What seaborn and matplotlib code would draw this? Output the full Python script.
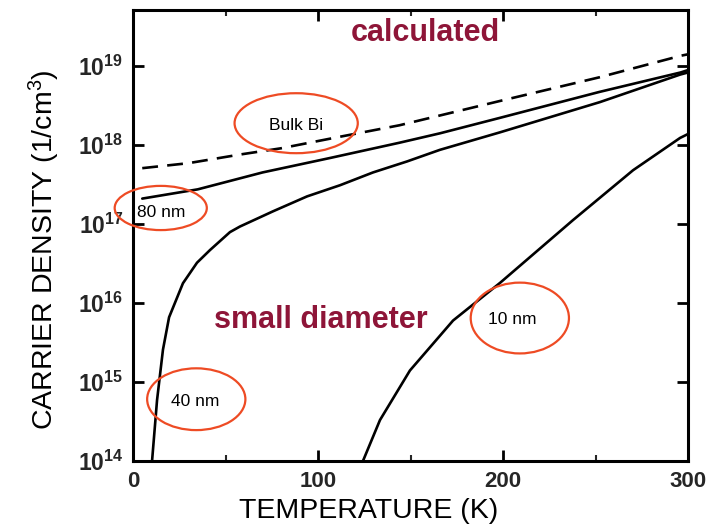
import numpy as np
import pandas as pd
import matplotlib
matplotlib.use("Agg")
import matplotlib.pyplot as plt
from matplotlib.patches import Ellipse
import seaborn as sns

# ---- data ----
t_bulk = [5, 30, 58, 80, 110, 144, 198, 252, 296, 300]
n_bulk = [5.1e17, 5.9e17, 7.6e17, 9.1e17, 1.25e18, 1.78e18, 3.6e18, 7.2e18, 1.35e19, 1.41e19]

t_80 = [5, 35, 58, 70, 107, 144, 166, 198, 252, 296, 300]
n_80 = [2.1e17, 2.75e17, 3.8e17, 4.5e17, 6.9e17, 1.07e18, 1.41e18, 2.2e18, 4.7e18,
        8.3e18, 8.9e18]

t_40 = [10.3, 13.0, 16.2, 19.5, 27.0, 34.6, 41.6, 52.4, 57.8, 75.7, 94.1, 111.9,
        129.7, 148.1, 165.9, 198.4, 252.4, 295.7, 300]
n_40 = [1.0e14, 5.9e14, 2.57e15, 6.6e15, 1.78e16, 3.24e16, 4.68e16, 7.9e16, 9.3e16,
        1.45e17, 2.24e17, 3.1e17, 4.5e17, 6.2e17, 8.7e17, 1.45e18, 3.5e18, 7.8e18,
        8.3e18]

t_10 = [124.3, 133.5, 149.7, 173.0, 198.4, 237.8, 270.3, 295.7, 300]
n_10 = [1.0e14, 3.3e14, 1.4e15, 6.0e15, 1.8e16, 1.12e17, 4.8e17, 1.23e18, 1.38e18]

x_ticks = [0, 100, 200, 300]
x_minor = [50, 150, 250]
y_exps = [14, 15, 16, 17, 18, 19]

labels = ["Bulk Bi", "80 nm", "40 nm", "10 nm"]

frames = []
for name, t, n in [("bulk", t_bulk, n_bulk), ("80", t_80, n_80),
                   ("40", t_40, n_40), ("10", t_10, n_10)]:
    frames.append(pd.DataFrame({"T": t, "n": n, "series": name}))
df = pd.concat(frames, ignore_index=True)

sns.set_style("ticks")
plt.rcParams["font.family"] = ["Liberation Sans", "DejaVu Sans"]
plt.rcParams["mathtext.fontset"] = "custom"
plt.rcParams["mathtext.rm"] = "Liberation Sans"
plt.rcParams["mathtext.bf"] = "Liberation Sans:bold"
plt.rcParams["mathtext.it"] = "Liberation Sans:italic"

fig = plt.figure(figsize=(7.1, 5.25), dpi=100)
ax = fig.add_axes([133/710, 1-461/525, 555/710, 451/525])

sns.lineplot(data=df, x="T", y="n", hue="series", style="series",
             palette={"bulk": "black", "80": "black", "40": "black", "10": "black"},
             dashes={"bulk": (6, 3.5), "80": "", "40": "", "10": ""},
             linewidth=1.9, legend=False, ax=ax, sort=False, estimator=None)

ax.set_yscale("log")
ax.set_xlim(0, 300)
ax.set_ylim(1e14, 10**19.71)

ax.set_xticks(x_ticks)
ax.set_xticklabels([str(v) for v in x_ticks], fontsize=16, fontweight="bold")
ax.set_xticks(x_minor, minor=True)
ax.set_yticks([10.0**e for e in y_exps])
ax.set_yticklabels([r"$\mathbf{10^{%d}}$" % e for e in y_exps], fontsize=16.5)
ax.yaxis.set_minor_locator(matplotlib.ticker.NullLocator())

ax.tick_params(axis="both", which="major", direction="in", length=8, width=2,
               top=True, right=True, color="black", pad=7)
ax.tick_params(axis="x", which="minor", direction="in", length=4, width=1.5,
               top=True, bottom=True)
for s in ax.spines.values():
    s.set_linewidth(2.2)
    s.set_color("black")

ax.set_xlabel("TEMPERATURE (K)", fontsize=20.5, color="black")
ax.set_ylabel("CARRIER DENSITY (1/cm$^3$)", fontsize=20.5, color="black")
ax.xaxis.set_label_coords((369-133)/555, -0.082)
ax.yaxis.set_label_coords(-0.128, (461-250)/451)

dark_red = "#8E1538"
ax.text(0.526, 0.949, "calculated", transform=ax.transAxes, ha="center",
        va="center", fontsize=22, fontweight="bold", color=dark_red)
ax.text(0.339, 0.313, "small diameter", transform=ax.transAxes, ha="center",
        va="center", fontsize=22, fontweight="bold", color=dark_red)

label_pos = [(0.294, 0.743), (0.050, 0.552), (0.112, 0.131), (0.683, 0.313)]
ell = [((0.294, 0.749), 0.222, 0.133), ((0.050, 0.561), 0.166, 0.098),
       ((0.114, 0.137), 0.177, 0.137), ((0.697, 0.317), 0.177, 0.157)]
for lab, (lx, ly), (c, w, h) in zip(labels, label_pos, ell):
    ax.text(lx, ly, lab, transform=ax.transAxes, ha="center", va="center",
            fontsize=12.5, color="black")
    ax.add_patch(Ellipse(c, w, h, transform=ax.transAxes, fill=False,
                         edgecolor="#EE4B24", linewidth=1.6, clip_on=False,
                         zorder=5))

fig.savefig("out.png", dpi=100)
